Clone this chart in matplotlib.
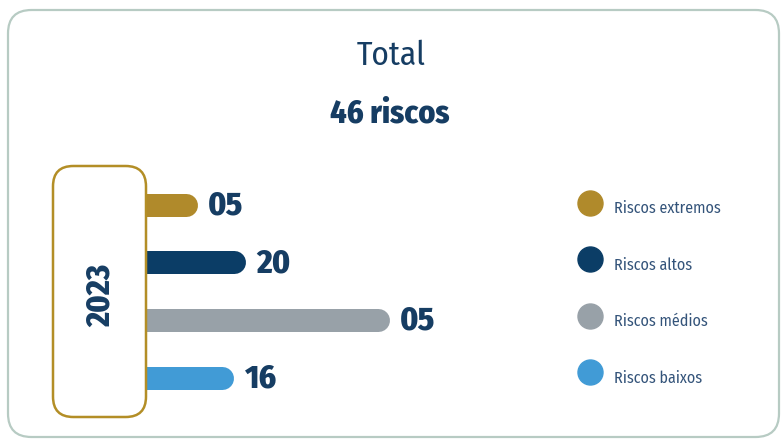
import matplotlib
matplotlib.use("Agg")
import matplotlib.pyplot as plt
from matplotlib.patches import FancyBboxPatch

# dados
categorias = ["Riscos extremos", "Riscos altos", "Riscos médios", "Riscos baixos"]
rotulos = ["05", "20", "05", "16"]
comprimento_barra = [21, 41, 100, 36]  # comprimento relativo das barras (maior = 100)
cores = ["#b08a2b", "#0b3d66", "#98a1a8", "#419bd6"]
ano = "2023"
titulo = "Total"
subtitulo = "46 riscos"

W, H = 783, 441
plt.rcParams["font.family"] = ["Fira Sans Condensed", "DejaVu Sans"]
azul = "#163d63"

fig = plt.figure(figsize=(W / 100, H / 100), dpi=100)


def fx(x):
    return x / W


def fy(y):
    return 1 - y / H


# moldura externa
moldura = FancyBboxPatch((fx(8), fy(437)), fx(771), (437 - 10) / H,
                         boxstyle="round,pad=0,rounding_size=0.03",
                         transform=fig.transFigure, facecolor="white",
                         edgecolor="#b7cbc3", linewidth=1.6,
                         mutation_aspect=W / H, zorder=-10)
fig.patches.append(moldura)

fig.text(fx(391), fy(56), titulo, ha="center", va="center", fontsize=24, color=azul)
fig.text(fx(390), fy(114), subtitulo, ha="center", va="center", fontsize=23,
         color=azul, fontweight="heavy")

# eixo das barras: 0..100 vai de x=146 a x=389 px
y_top, y_bot = 204.5, 377.5
ax = fig.add_axes([fx(146), fy(y_bot), (389 - 146) / W, (y_bot - y_top) / H])
ax.set_xlim(0, 100)
ax.set_ylim(len(categorias) - 1, 0)
ax.axis("off")

altura_px = 23
raio = (altura_px / 2) / (389 - 146) * 100
lw = altura_px * 72 / 100
for i, (c, r, cor) in enumerate(zip(comprimento_barra, rotulos, cores)):
    ax.plot([-20, c - raio], [i, i], color=cor, lw=lw, solid_capstyle="round",
            clip_on=False, zorder=2)
    ax.annotate(r, (c, i), xytext=(8, -1), textcoords="offset points",
                ha="left", va="center", fontsize=24, fontweight="heavy",
                color=azul, annotation_clip=False)

# caixa do ano
caixa = FancyBboxPatch((fx(53), fy(417)), (146 - 53) / W, (417 - 166) / H,
                       boxstyle="round,pad=0,rounding_size=0.026",
                       transform=fig.transFigure, facecolor="white",
                       edgecolor="#b38e26", linewidth=1.8, zorder=5,
                       mutation_aspect=W / H, clip_on=False)
ax.add_patch(caixa)
ax.text(fx(101), fy(295), ano, transform=fig.transFigure, rotation=90,
        ha="center", va="center", fontsize=23, fontweight="heavy", color=azul,
        zorder=6)

# legenda: linhas de y=202.5 a y=372 px
ly_top, ly_bot = 202.5, 372
ax_leg = fig.add_axes([fx(590), fy(ly_bot), fx(150), (ly_bot - ly_top) / H])
ax_leg.set_xlim(0, 1)
ax_leg.set_ylim(len(categorias) - 1, 0)
ax_leg.axis("off")
for i, (nome, cor) in enumerate(zip(categorias, cores)):
    ax_leg.plot([0], [i], "o", ms=18, color=cor, clip_on=False)
    ax_leg.annotate(nome, (0, i), xytext=(17, -4.5), textcoords="offset points",
                    ha="left", va="center", fontsize=11.5, fontweight="normal",
                    color="#34547a", annotation_clip=False)

fig.savefig("out.png", dpi=100)
